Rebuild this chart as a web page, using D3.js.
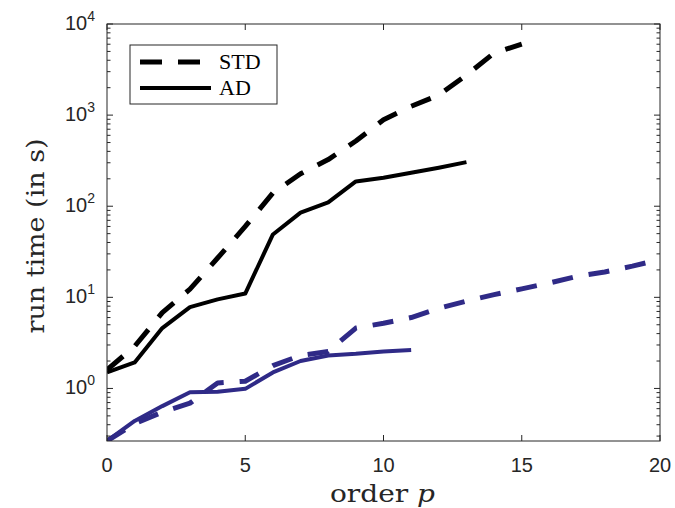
<!DOCTYPE html>
<html>
<head>
<meta charset="utf-8">
<script src="https://cdn.jsdelivr.net/npm/d3@7"></script>
<style>
  body { margin: 0; background: #fff; }
  svg { display: block; }
</style>
</head>
<body>
<div id="chart"></div>
<script>
const FRAME_WIDTH = 675;
const FRAME_HEIGHT = 508;
const MARGINS = {left: 107, right: 15, top: 24, bottom: 67};
const VIS_WIDTH = FRAME_WIDTH - MARGINS.left - MARGINS.right;
const VIS_HEIGHT = FRAME_HEIGHT - MARGINS.top - MARGINS.bottom;

// data
const P_STD_BLACK = [0,1,2,3,4,5,6,7,8,9,10,11,12,13,14,15];
const STD_BLACK = [1.6, 2.9, 6.8, 12.3, 27, 60, 140, 227, 325, 520, 890, 1250, 1660, 2750, 4800, 6000];
const P_AD_BLACK = [0,1,2,3,4,5,6,7,8,9,10,11,12,13];
const AD_BLACK = [1.5, 1.93, 4.6, 7.8, 9.5, 11, 49, 85, 110, 187, 205, 233, 265, 305];
const P_STD_BLUE = [0,1,2,3,4,5,6,7,8,9,10,11,12,13,14,15,16,17,18,19,20];
const STD_BLUE = [0.265, 0.41, 0.55, 0.69, 1.15, 1.2, 1.78, 2.3, 2.55, 4.6, 5.2, 6.0, 7.6, 9.1, 10.7, 12.4, 14.4, 17, 19, 22, 26];
const P_AD_BLUE = [0,1,2,3,4,5,6,7,8,9,10,11];
const AD_BLUE = [0.265, 0.44, 0.64, 0.91, 0.92, 0.99, 1.5, 2.0, 2.3, 2.4, 2.55, 2.65];

const X_TICKS = [0, 5, 10, 15, 20];
const Y_TICKS = [1, 10, 100, 1000, 10000];
const LEGEND_LABELS = ["STD", "AD"];

const BLUE = "#2f2a87";
const AXIS_COLOR = "#262626";

const svg = d3.select("#chart")
  .append("svg")
    .attr("width", FRAME_WIDTH)
    .attr("height", FRAME_HEIGHT);

const X_SCALE = d3.scaleLinear().domain([0, 20]).range([0, VIS_WIDTH]);
const Y_SCALE = d3.scaleLog().domain([0.265, 10000]).range([VIS_HEIGHT, 0]);

const plot = svg.append("g")
  .attr("transform", "translate(" + MARGINS.left + "," + MARGINS.top + ")");

svg.append("defs").append("clipPath").attr("id", "clip")
  .append("rect").attr("width", VIS_WIDTH).attr("height", VIS_HEIGHT);

// series
const series = [
  {p: P_STD_BLACK, v: STD_BLACK, color: "#000", dash: true},
  {p: P_AD_BLACK, v: AD_BLACK, color: "#000", dash: false},
  {p: P_STD_BLUE, v: STD_BLUE, color: BLUE, dash: true},
  {p: P_AD_BLUE, v: AD_BLUE, color: BLUE, dash: false}
];

const line = d3.line()
  .x((d) => X_SCALE(d[0]))
  .y((d) => Y_SCALE(d[1]));

const lines = plot.append("g").attr("clip-path", "url(#clip)");
series.forEach((s) => {
  lines.append("path")
    .datum(s.p.map((p, i) => [p, s.v[i]]))
    .attr("d", line)
    .attr("fill", "none")
    .attr("stroke", s.color)
    .attr("stroke-width", s.dash ? 5 : 4)
    .attr("stroke-dasharray", s.dash ? "21,16" : null)
    .attr("stroke-linejoin", "round");
});

// axes box and ticks (all inward)
plot.append("rect")
  .attr("width", VIS_WIDTH).attr("height", VIS_HEIGHT)
  .attr("fill", "none").attr("stroke", AXIS_COLOR).attr("stroke-width", 1);

const minorTicks = Y_SCALE.ticks().filter((t) => Y_TICKS.indexOf(t) < 0);

[0, VIS_WIDTH].forEach((x0) => {
  const dir = x0 === 0 ? 1 : -1;
  plot.selectAll(null).data(Y_TICKS).enter().append("line")
    .attr("x1", x0).attr("x2", x0 + dir * 6)
    .attr("y1", (d) => Y_SCALE(d)).attr("y2", (d) => Y_SCALE(d))
    .attr("stroke", AXIS_COLOR);
  plot.selectAll(null).data(minorTicks).enter().append("line")
    .attr("x1", x0).attr("x2", x0 + dir * 3.5)
    .attr("y1", (d) => Y_SCALE(d)).attr("y2", (d) => Y_SCALE(d))
    .attr("stroke", AXIS_COLOR);
});

[0, VIS_HEIGHT].forEach((y0) => {
  const dir = y0 === 0 ? 1 : -1;
  plot.selectAll(null).data(X_TICKS).enter().append("line")
    .attr("x1", (d) => X_SCALE(d)).attr("x2", (d) => X_SCALE(d))
    .attr("y1", y0).attr("y2", y0 + dir * 6)
    .attr("stroke", AXIS_COLOR);
});

// tick labels
plot.selectAll(null).data(X_TICKS).enter().append("text")
  .attr("x", (d) => X_SCALE(d))
  .attr("y", VIS_HEIGHT + 31)
  .attr("text-anchor", "middle")
  .attr("font-family", "Liberation Sans, Arial, sans-serif")
  .attr("font-size", 20)
  .attr("fill", AXIS_COLOR)
  .text((d) => d);

const yLabels = plot.selectAll(null).data(Y_TICKS).enter().append("text")
  .attr("x", -12)
  .attr("y", (d) => Y_SCALE(d) + 6)
  .attr("text-anchor", "end")
  .attr("font-family", "Liberation Sans, Arial, sans-serif")
  .attr("font-size", 20)
  .attr("fill", AXIS_COLOR);
yLabels.append("tspan").text("10");
yLabels.append("tspan")
  .attr("dy", -9)
  .attr("font-size", 14)
  .text((d) => Math.round(Math.log10(d)));

// axis titles
svg.append("text")
  .attr("x", 330)
  .attr("y", 502)
  .attr("font-family", "DejaVu Serif, serif")
  .attr("font-size", 25)
  .attr("fill", AXIS_COLOR)
  .attr("textLength", 105)
  .attr("lengthAdjust", "spacingAndGlyphs")
  .html('order <tspan font-style="italic">p</tspan>');

svg.append("text")
  .attr("transform", "translate(44,236) rotate(-90)")
  .attr("text-anchor", "middle")
  .attr("font-family", "DejaVu Serif, serif")
  .attr("font-size", 25)
  .attr("fill", AXIS_COLOR)
  .attr("textLength", 195)
  .attr("lengthAdjust", "spacingAndGlyphs")
  .text("run time (in s)");

// legend
const legend = svg.append("g").attr("transform", "translate(130,45)");
legend.append("rect")
  .attr("width", 147).attr("height", 59)
  .attr("fill", "#fff").attr("stroke", AXIS_COLOR).attr("stroke-width", 1);
LEGEND_LABELS.forEach((lab, i) => {
  const y = 17 + i * 26;
  legend.append("line")
    .attr("x1", 10).attr("x2", 81)
    .attr("y1", y).attr("y2", y)
    .attr("stroke", "#000")
    .attr("stroke-width", i === 0 ? 5 : 4)
    .attr("stroke-dasharray", i === 0 ? "22,16" : null);
  legend.append("text")
    .attr("x", 89).attr("y", y + 7)
    .attr("font-family", "Liberation Serif, serif")
    .attr("font-size", 22)
    .attr("fill", "#000")
    .text(lab);
});
</script>
</body>
</html>
